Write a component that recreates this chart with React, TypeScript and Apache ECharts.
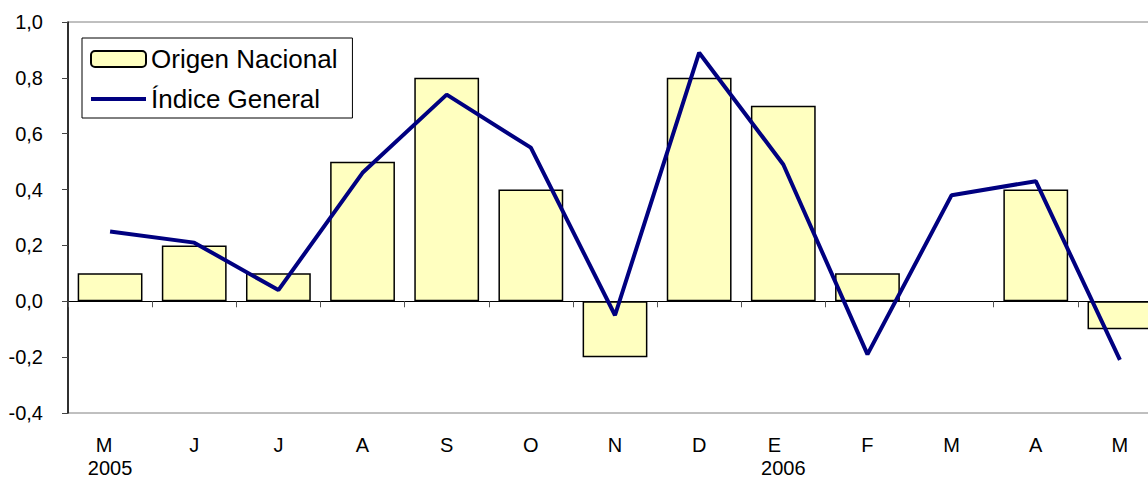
import React, { useEffect, useRef } from "react";
import * as echarts from "echarts";

const categories = ["M", "J", "J", "A", "S", "O", "N", "D", "E", "F", "M", "A", "M"];
const yearLabels = ["2005", "", "", "", "", "", "", "", "2006", "", "", "", ""];
const origenNacional: (number | null)[] = [0.1, 0.2, 0.1, 0.5, 0.8, 0.4, -0.2, 0.8, 0.7, 0.1, null, 0.4, -0.1];
const indiceGeneral = [0.25, 0.21, 0.04, 0.46, 0.74, 0.55, -0.05, 0.89, 0.49, -0.19, 0.38, 0.43, -0.21];

const FONT = "'Liberation Sans', Arial, sans-serif";
const LINE_ICON = "path://M0,0h0.01v0.01h-0.01z M0,6h55v4h-55z M54.99,15.99h0.01v0.01h-0.01z";

export default function App() {
  const ref = useRef<HTMLDivElement>(null);
  useEffect(() => {
    if (!ref.current) return;
    const chart = echarts.init(ref.current, null, { renderer: "svg" });
    const labels = categories.map((c, i) => {
      const y = yearLabels[i];
      if (!y) return c;
      return `{${i === 0 ? "m0" : "m8"}|${c}}\n{y|${y}}`;
    });
    chart.setOption({
      animation: false,
      textStyle: { fontFamily: FONT },
      grid: {
        left: 68,
        top: 22,
        width: 1094,
        height: 391,
        containLabel: false,
        outerBoundsMode: "none",
        show: true,
        borderColor: "#808080",
        borderWidth: 1,
      },
      legend: {
        left: 82,
        top: 38,
        orient: "vertical",
        backgroundColor: "#fff",
        borderColor: "#000",
        borderWidth: 1,
        padding: [6, 15, 4, 8],
        itemGap: 10,
        itemWidth: 55,
        itemHeight: 16,
        textStyle: { fontSize: 26, lineHeight: 30, color: "#000", fontFamily: FONT },
        data: [
          { name: "Origen Nacional" },
          { name: "Índice General", icon: LINE_ICON, itemStyle: { color: "#000080", borderWidth: 0 } },
        ],
      },
      xAxis: [
        {
          type: "category",
          data: categories,
          axisLine: { onZero: true, lineStyle: { color: "#000", width: 1 } },
          axisTick: { show: true, alignWithLabel: false, length: 6, lineStyle: { color: "#555" } },
          axisLabel: { show: false },
          splitLine: { show: false },
        },
        {
          type: "category",
          data: labels,
          position: "bottom",
          axisLine: { show: false, onZero: false },
          axisTick: { show: false },
          axisLabel: {
            color: "#000",
            fontSize: 20,
            fontFamily: FONT,
            margin: 18,
            lineHeight: 27,
            interval: 0,
            rich: {
              m0: { fontSize: 20, lineHeight: 27, color: "#000", fontFamily: FONT, padding: [0, 12, 0, 0] },
              m8: { fontSize: 20, lineHeight: 27, color: "#000", fontFamily: FONT, padding: [0, 18, 0, 0] },
              y: { fontSize: 20, lineHeight: 20, color: "#000", fontFamily: FONT },
            },
          },
          splitLine: { show: false },
        },
      ],
      yAxis: {
        type: "value",
        min: -0.4,
        max: 1.0,
        interval: 0.2,
        axisLine: { show: true, lineStyle: { color: "#000", width: 1.5 } },
        axisTick: { show: true, length: 6, lineStyle: { color: "#444" } },
        axisLabel: {
          color: "#000",
          fontSize: 20,
          fontFamily: FONT,
          margin: 25,
          formatter: (v: number) => v.toFixed(1).replace(".", ","),
        },
        splitLine: { show: false },
      },
      series: [
        {
          name: "Origen Nacional",
          type: "bar",
          xAxisIndex: 0,
          data: origenNacional,
          barCategoryGap: "23%",
          itemStyle: { color: "#FFFFC0", borderColor: "#000", borderWidth: 1.5 },
        },
        {
          name: "Índice General",
          type: "line",
          xAxisIndex: 0,
          data: indiceGeneral,
          symbol: "none",
          lineStyle: { color: "#000080", width: 4 },
          itemStyle: { color: "#000080" },
        },
      ],
    });
    return () => chart.dispose();
  }, []);
  return (
    <div
      style={{
        position: "fixed",
        left: 0,
        top: 0,
        width: 1148,
        height: 479,
        overflow: "hidden",
        background: "#fff",
      }}
    >
      <div ref={ref} style={{ width: 1180, height: 479 }} />
    </div>
  );
}
